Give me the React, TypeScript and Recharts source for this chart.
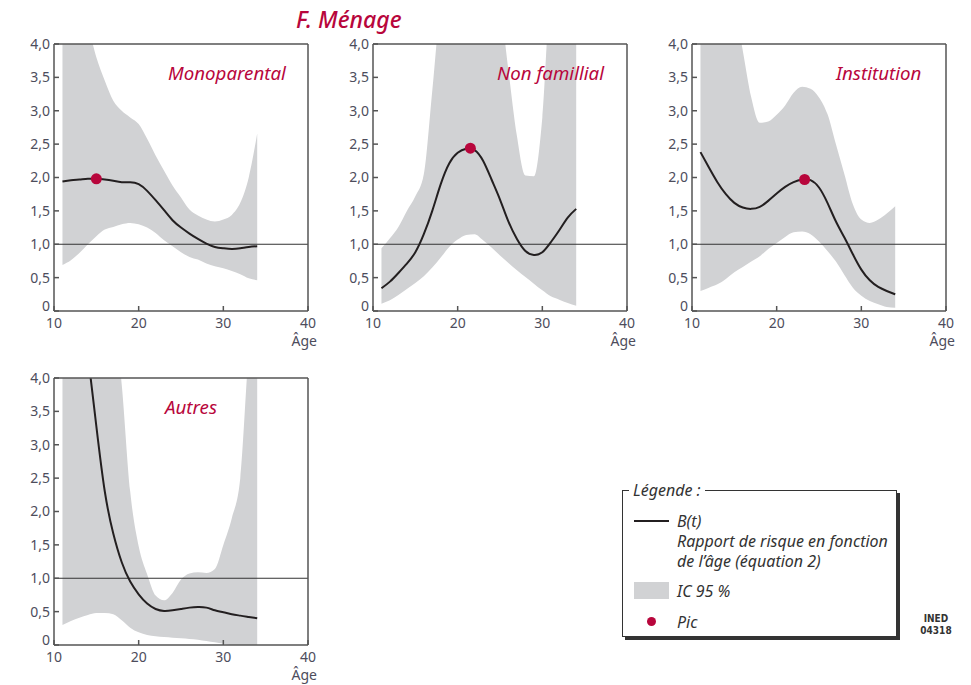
import React from "react";
import {
  ComposedChart,
  Area,
  Line,
  Scatter,
  XAxis,
  YAxis,
  ReferenceLine,
} from "recharts";

const ages = [
  11, 12, 13, 14, 15, 16, 17, 18, 19, 20, 21, 22, 23, 24, 25, 26, 27, 28, 29,
  30, 31, 32, 33, 34,
];
const xTicks = [10, 20, 30, 40];
const yTicks = [0, 0.5, 1, 1.5, 2, 2.5, 3, 3.5, 4];

// Monoparental
const monoB = [1.94, 1.96, 1.97, 1.98, 1.98, 1.97, 1.95, 1.93, 1.93, 1.9, 1.8, 1.66, 1.51, 1.36, 1.25, 1.16, 1.08, 1.01, 0.96, 0.94, 0.93, 0.94, 0.96, 0.97];
const monoLow = [0.69, 0.76, 0.87, 1.0, 1.12, 1.22, 1.26, 1.3, 1.32, 1.3, 1.25, 1.17, 1.06, 0.97, 0.88, 0.81, 0.77, 0.71, 0.67, 0.64, 0.6, 0.55, 0.49, 0.46];
const monoHigh = [5.0, 5.0, 4.8, 4.3, 3.8, 3.45, 3.15, 3.0, 2.9, 2.8, 2.58, 2.33, 2.1, 1.88, 1.7, 1.52, 1.43, 1.37, 1.34, 1.37, 1.44, 1.62, 2.0, 2.66];
const monoPeak = [{ age: 15, b: 1.98 }];

// Non familial
const nfB = [0.34, 0.44, 0.57, 0.71, 0.88, 1.15, 1.5, 1.9, 2.21, 2.37, 2.43, 2.41, 2.25, 1.97, 1.67, 1.34, 1.08, 0.9, 0.84, 0.88, 1.03, 1.21, 1.4, 1.53];
const nfLow = [0.11, 0.16, 0.24, 0.33, 0.42, 0.52, 0.65, 0.8, 0.96, 1.07, 1.14, 1.15, 1.06, 0.95, 0.83, 0.72, 0.61, 0.51, 0.41, 0.31, 0.22, 0.17, 0.12, 0.08];
const nfHigh = [0.94, 1.09, 1.26, 1.5, 1.72, 2.05, 3.3, 4.6, 5, 5, 5, 5, 5, 5, 4.6, 3.6, 2.62, 2.03, 2.02, 2.9, 4.8, 5, 5, 5];
const nfPeak = [{ age: 21.5, b: 2.44 }];

// Institution
const instB = [2.38, 2.15, 1.93, 1.75, 1.62, 1.55, 1.53, 1.56, 1.65, 1.76, 1.86, 1.93, 1.97, 1.96, 1.85, 1.62, 1.34, 1.1, 0.85, 0.62, 0.46, 0.36, 0.3, 0.25];
const instLow = [0.3, 0.35, 0.4, 0.48, 0.58, 0.66, 0.74, 0.82, 0.93, 1.02, 1.11, 1.18, 1.19, 1.15, 1.04, 0.9, 0.74, 0.54, 0.35, 0.23, 0.15, 0.1, 0.06, 0.05];
const instHigh = [5, 5, 5, 5, 4.6, 3.9, 3.2, 2.82, 2.84, 2.94, 3.08, 3.27, 3.36, 3.33, 3.2, 2.95, 2.5, 2.05, 1.6, 1.37, 1.32, 1.37, 1.46, 1.57];
const instPeak = [{ age: 23.3, b: 1.97 }];

// Autres
const autB = [8.0, 6.6, 5.4, 4.35, 3.28, 2.3, 1.67, 1.24, 0.95, 0.76, 0.62, 0.54, 0.51, 0.52, 0.54, 0.56, 0.57, 0.56, 0.52, 0.49, 0.46, 0.44, 0.42, 0.4];
const autLow = [0.3, 0.36, 0.41, 0.45, 0.48, 0.48, 0.46, 0.37, 0.26, 0.19, 0.15, 0.13, 0.12, 0.11, 0.1, 0.09, 0.08, 0.06, 0.04, 0.02, 0, 0, 0, 0];
const autHigh = [5, 5, 5, 5, 5, 5, 5, 3.9, 2.3, 1.48, 1.06, 0.74, 0.67, 0.78, 0.98, 1.07, 1.09, 1.08, 1.14, 1.5, 1.9, 2.5, 4.4, 5.5];

const RED = "#b8063c";
const AXIS = "#555555";
const TICK_TEXT = "#4d4d5c";
const BAND = "#d1d2d4";
const FONT = "'Noto Sans', sans-serif";

const build = (b: number[], low: number[], high: number[]) =>
  ages.map((age, i) => ({ age, b: b[i], ic: [low[i], high[i]] }));

const fmtY = (v: number) => (v === 0 ? "0" : v.toFixed(1).replace(".", ","));

const XTick = (props: any) => {
  const { x, y, payload } = props;
  return (
    <g>
      <text x={x} y={y} dy="0.71em" textAnchor="middle" fill={TICK_TEXT} fontSize={14} fontFamily={FONT}>
        {payload.value}
      </text>
      {payload.value === 40 && (
        <text x={x + 9} y={y + 18} dy="0.71em" textAnchor="end" fill={TICK_TEXT} fontSize={14} fontFamily={FONT}>
          Âge
        </text>
      )}
    </g>
  );
};

// the "0" label sits a little above the bottom edge in the original
const YTick = (props: any) => {
  const { x, y, payload } = props;
  return (
    <text
      x={x}
      y={payload.value === 0 ? y - 5 : y}
      dy="0.355em"
      textAnchor="end"
      fill={TICK_TEXT}
      fontSize={14}
      fontFamily={FONT}
    >
      {fmtY(payload.value)}
    </text>
  );
};

const Peak = (props: any) => <circle cx={props.cx} cy={props.cy} r={5.5} fill={RED} />;

type PanelProps = {
  left: number;
  top: number;
  data: { age: number; b: number; ic: number[] }[];
  peak?: { age: number; b: number }[];
  label: string;
  labelX: number;
  labelY: number;
};

const Panel = ({ left, top, data, peak, label, labelX, labelY }: PanelProps) => (
  <div style={{ position: "absolute", left: left - 54, top: top - 44 }}>
    <ComposedChart
      width={330}
      height={360}
      data={data}
      margin={{ top: 40, right: 12, bottom: 19, left: 0 }}
    >
      <XAxis
        dataKey="age"
        type="number"
        domain={[10, 40]}
        ticks={xTicks}
        allowDataOverflow
        stroke={AXIS}
        strokeWidth={1.5}
        tickSize={-5}
        tickMargin={12}
        height={30}
        tick={<XTick />}
      />
      <XAxis
        xAxisId="top"
        orientation="top"
        type="number"
        domain={[10, 40]}
        ticks={xTicks}
        allowDataOverflow
        stroke={AXIS}
        strokeWidth={1.5}
        tickSize={-5}
        height={4}
        tick={false}
      />
      <YAxis
        type="number"
        domain={[0, 4]}
        ticks={yTicks}
        allowDataOverflow
        stroke={AXIS}
        strokeWidth={1.5}
        tickSize={-5}
        tickMargin={9}
        width={54}
        tick={<YTick />}
      />
      <YAxis
        yAxisId="right"
        orientation="right"
        type="number"
        domain={[0, 4]}
        ticks={yTicks}
        allowDataOverflow
        stroke={AXIS}
        strokeWidth={1.5}
        tickSize={-5}
        width={10}
        tick={false}
      />
      <Area
        dataKey="ic"
        type="monotone"
        fill={BAND}
        fillOpacity={1}
        stroke="none"
        isAnimationActive={false}
      />
      <ReferenceLine y={1} stroke="#333" strokeWidth={1} />
      <Line
        dataKey="b"
        type="natural"
        stroke="#231f20"
        strokeWidth={2}
        dot={false}
        isAnimationActive={false}
      />
      {peak && (
        <Scatter data={peak} dataKey="b" shape={<Peak />} isAnimationActive={false} />
      )}
    </ComposedChart>
    <div
      style={{
        position: "absolute",
        left: labelX - (left - 54),
        top: labelY - (top - 44),
        color: RED,
        fontStyle: "italic",
        fontSize: 18.7,
        fontFamily: FONT,
        whiteSpace: "nowrap",
        lineHeight: "20px",
      }}
    >
      {label}
    </div>
  </div>
);

const legendText: React.CSSProperties = {
  position: "absolute",
  left: 54,
  fontStyle: "italic",
  fontSize: 16,
  color: "#333",
  whiteSpace: "nowrap",
  lineHeight: "20px",
};

export default function App() {
  return (
    <div
      style={{
        position: "absolute",
        left: 0,
        top: 0,
        width: 971,
        height: 685,
        background: "#fff",
        fontFamily: FONT,
      }}
    >
      <div
        style={{
          position: "absolute",
          left: 296,
          top: 3,
          color: RED,
          fontStyle: "italic",
          fontSize: 23,
          fontWeight: 500,
          whiteSpace: "nowrap",
        }}
      >
        F. Ménage
      </div>
      <Panel left={54} top={44} data={build(monoB, monoLow, monoHigh)} peak={monoPeak} label="Monoparental" labelX={168} labelY={63} />
      <Panel left={373} top={44} data={build(nfB, nfLow, nfHigh)} peak={nfPeak} label="Non famillial" labelX={497} labelY={63} />
      <Panel left={692} top={44} data={build(instB, instLow, instHigh)} peak={instPeak} label="Institution" labelX={836} labelY={63} />
      <Panel left={54} top={378} data={build(autB, autLow, autHigh)} label="Autres" labelX={165} labelY={397} />

      <div
        style={{
          position: "absolute",
          left: 622,
          top: 490,
          width: 273,
          height: 145,
          border: "1px solid #333",
          boxShadow: "3px 3px 0 #333",
        }}
      >
        <div
          style={{
            position: "absolute",
            left: 6,
            top: -11,
            padding: "0 4px",
            background: "#fff",
            fontStyle: "italic",
            fontSize: 16,
            color: "#333",
            lineHeight: "20px",
          }}
        >
          Légende :
        </div>
        <div style={{ position: "absolute", left: 11, top: 29, width: 35, height: 2, background: "#231f20" }} />
        <div style={{ ...legendText, top: 20 }}>B(t)</div>
        <div style={{ ...legendText, top: 40 }}>Rapport de risque en fonction</div>
        <div style={{ ...legendText, top: 60 }}>de l’âge (équation 2)</div>
        <div style={{ position: "absolute", left: 11, top: 91, width: 35, height: 17, background: BAND }} />
        <div style={{ ...legendText, top: 90 }}>IC 95 %</div>
        <div style={{ position: "absolute", left: 24, top: 126, width: 9, height: 9, borderRadius: "50%", background: RED }} />
        <div style={{ ...legendText, top: 121 }}>Pic</div>
      </div>
      <div
        style={{
          position: "absolute",
          left: 916,
          top: 613,
          width: 40,
          textAlign: "center",
          fontFamily: "'DejaVu Sans Condensed', 'DejaVu Sans', sans-serif",
          fontWeight: 700,
          fontSize: 10,
          lineHeight: "12px",
          color: "#333",
        }}
      >
        INED
        <br />
        04318
      </div>
    </div>
  );
}
